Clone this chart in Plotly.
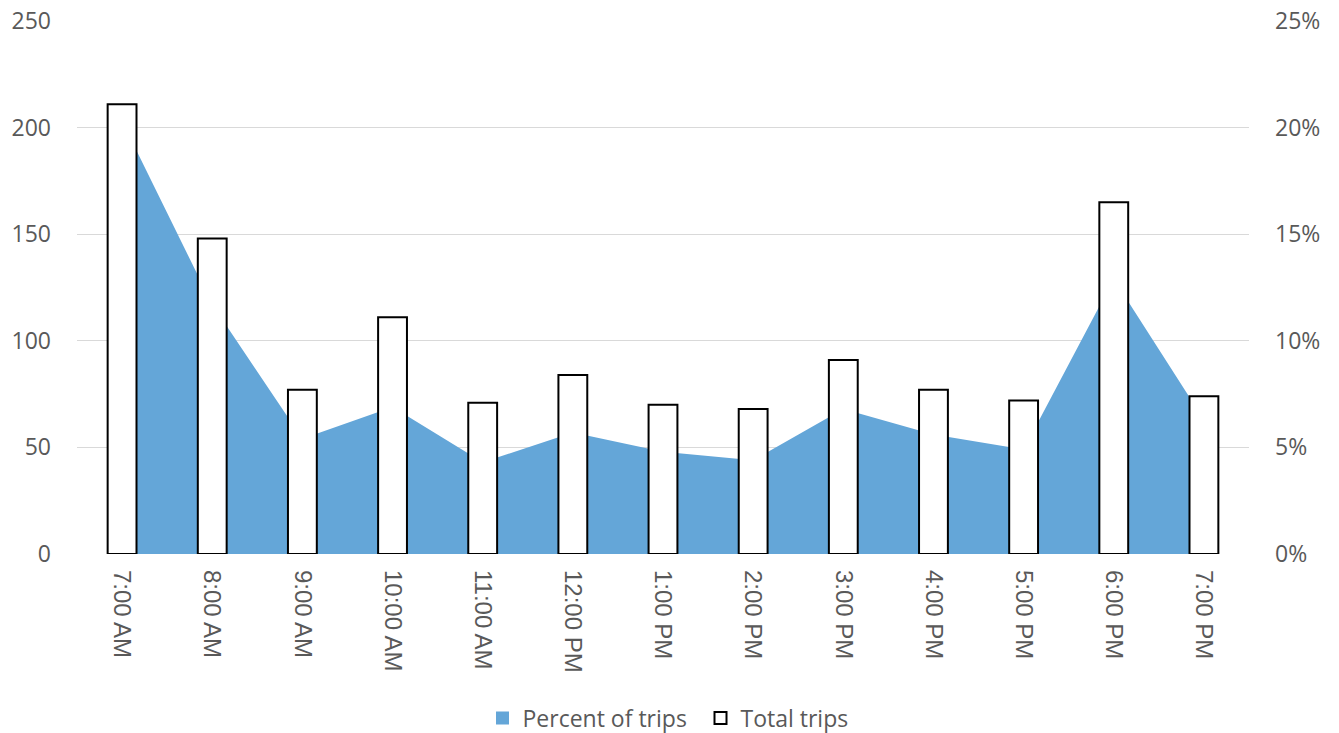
import plotly.graph_objects as go

# Hourly trip counts and share of trips
hours = ["7:00 AM", "8:00 AM", "9:00 AM", "10:00 AM", "11:00 AM", "12:00 PM",
         "1:00 PM", "2:00 PM", "3:00 PM", "4:00 PM", "5:00 PM", "6:00 PM", "7:00 PM"]
total_trips = [211, 148, 77, 111, 71, 84, 70, 68, 91, 77, 72, 165, 74]
percent_of_trips = [20.3, 11.7, 5.4, 6.9, 4.3, 5.7, 4.8, 4.4, 6.8, 5.6, 4.9, 12.9, 6.3]

count_ticks = [0, 50, 100, 150, 200, 250]
percent_ticks = [0, 5, 10, 15, 20, 25]

TEXT = "#595959"
GRID = "#D9D9D9"
BLUE = "#64A6D8"

fig = go.Figure()

# Area (percent) on the base axis so the bars sit on top of it
fig.add_trace(go.Scatter(
    x=hours, y=percent_of_trips, name="Percent of trips",
    mode="none", fill="tozeroy", fillcolor=BLUE,
    yaxis="y", showlegend=False, hoverinfo="x+y",
))

# Bars (counts) on the overlaying axis
fig.add_trace(go.Bar(
    x=hours, y=total_trips, name="Total trips",
    marker=dict(color="white", line=dict(color="black", width=2)),
    width=0.32, yaxis="y2", showlegend=False,
))

# Square legend keys for both series
fig.add_trace(go.Scatter(
    x=[None], y=[None], name="Percent of trips", mode="markers",
    marker=dict(symbol="square", size=13, color=BLUE, line=dict(width=0)),
    yaxis="y",
))
fig.add_trace(go.Scatter(
    x=[None], y=[None], name="Total trips", mode="markers",
    marker=dict(symbol="square", size=12, color="white",
                line=dict(color="black", width=2)),
    yaxis="y",
))

fig.update_layout(
    width=1339, height=733,
    margin=dict(l=77, r=90, t=21, b=179, autoexpand=False),
    paper_bgcolor="white", plot_bgcolor="white",
    font=dict(family="Open Sans", color=TEXT, size=23),
    showlegend=True,
    legend=dict(
        orientation="h", x=0.532, xanchor="center", y=-0.308, yanchor="middle",
        font=dict(family="Open Sans", size=23, color=TEXT),
        itemwidth=30, traceorder="normal",
        entrywidth=173, entrywidthmode="pixels",
    ),
    xaxis=dict(
        type="category", range=[-0.5, len(hours) - 0.5],
        tickangle=90, showgrid=False, zeroline=False, showline=False,
        ticks="", ticklabelstandoff=15, automargin=False,
        tickfont=dict(family="Liberation Sans", size=24, color=TEXT),
    ),
    yaxis=dict(
        side="right", range=[0, 25], tickvals=percent_ticks,
        ticktext=[f"{v}%" for v in percent_ticks],
        showgrid=True, gridcolor=GRID, gridwidth=1, automargin=False,
        zeroline=False, showline=False, ticks="", ticklabelstandoff=25,
        tickfont=dict(family="Open Sans", size=23, color=TEXT),
    ),
    yaxis2=dict(
        overlaying="y", side="left", range=[0, 250], tickvals=count_ticks,
        showgrid=False, zeroline=False, showline=False, ticks="",
        ticklabelstandoff=25, automargin=False,
        tickfont=dict(family="Open Sans", size=23, color=TEXT),
    ),
)

fig.write_html("out.html")
